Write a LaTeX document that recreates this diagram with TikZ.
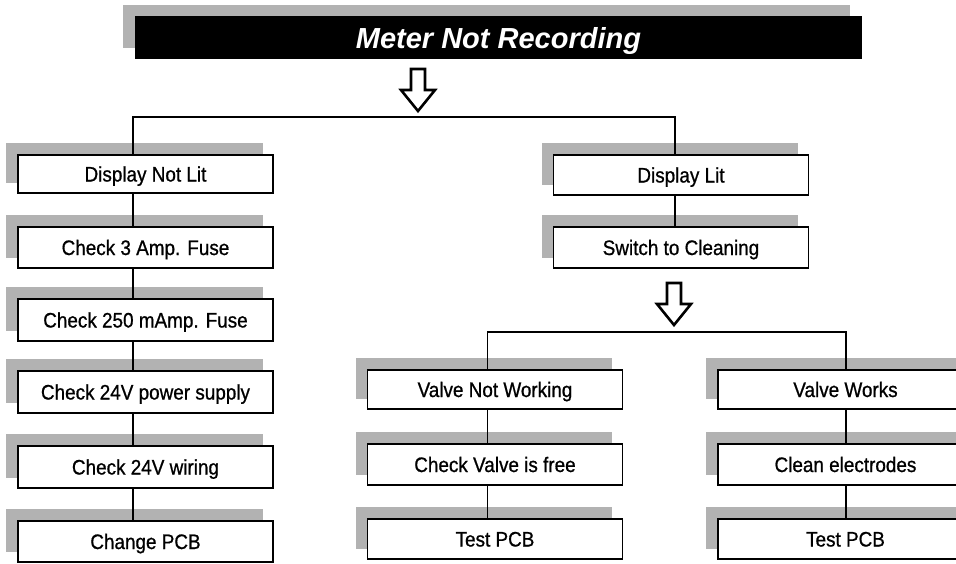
\documentclass[tikz,border=0pt]{standalone}
\usepackage{fontspec}
\setmainfont{Liberation Sans}
\newfontfamily\boxfont{Liberation Sans}[FakeStretch=0.9,FakeBold=0.8]
\usetikzlibrary{backgrounds}
\definecolor{shadowgray}{gray}{0.70}
\tikzset{
  stepbox/.style={draw=black, line width=1.8pt, fill=white, minimum width=255pt,
    minimum height=40pt, inner sep=0pt, text height=15pt, text depth=0pt,
    font=\boxfont\fontsize{21}{24}\selectfont},
  titlebox/.style={fill=black, text=white, minimum width=727pt, minimum height=43pt,
    inner sep=0pt, text height=21pt, text depth=0pt,
    font=\bfseries\itshape\fontsize{29}{32}\selectfont},
  conn/.style={draw=black, line width=1.6pt},
  shade/.style={fill=shadowgray},
  bigarrow/.style={draw=black, fill=white, line width=2.6pt, line join=miter}
}
\newcommand{\boxshadow}[1]{\fill[shade] ([shift={(-11,-11)}]#1.north west) rectangle ([shift={(-11,-11)}]#1.south east);}
\begin{document}
\begin{tikzpicture}[x=1pt,y=-1pt]
\useasboundingbox (0,0) rectangle (956,563);
% title
\node[titlebox] (title) at (498.5,37.5) {Meter Not Recording};
% left column
\node[stepbox, minimum height=38pt] (dnl) at (145.5,174) {Display Not Lit};
\node[stepbox, minimum height=41pt] (f3) at (145.5,247.5) {Check 3 Amp. Fuse};
\node[stepbox, minimum height=42pt] (f250) at (145.5,320) {Check 250 mAmp. Fuse};
\node[stepbox, minimum height=42pt] (ps) at (145.5,392) {Check 24V power supply};
\node[stepbox, minimum height=42pt] (wir) at (145.5,467) {Check 24V wiring};
\node[stepbox, minimum height=41pt] (cpcb) at (145.5,541.5) {Change PCB};
% middle column
\node[stepbox] (dl) at (681,175) {Display Lit};
\node[stepbox, minimum height=41pt] (sw) at (681,247.5) {Switch to Cleaning};
% lower middle column
\node[stepbox, minimum height=39pt] (vnw) at (495,389.5) {Valve Not Working};
\node[stepbox, minimum height=41pt] (cvf) at (495,464.5) {Check Valve is free};
\node[stepbox] (tp1) at (495,539) {Test PCB};
% lower right column
\node[stepbox, minimum height=39pt] (vw) at (845.5,389.5) {Valve Works};
\node[stepbox, minimum height=41pt] (ce) at (845.5,464.5) {Clean electrodes};
\node[stepbox] (tp2) at (845.5,539) {Test PCB};
% guide coordinates
\coordinate (lx) at (133,0);
\coordinate (mx) at (675,0);
\coordinate (lmx) at (487.5,0);
\coordinate (lrx) at (846,0);
\coordinate (bar1) at (0,117);
\coordinate (bar2) at (0,332);
\begin{pgfonlayer}{background}
  \fill[shade] ([shift={(-12,-11)}]title.north west) rectangle ([shift={(-12,-11)}]title.south east);
  \foreach \n in {dnl,f3,f250,ps,wir,cpcb,dl,sw,vnw,cvf,tp1,vw,ce,tp2} {\boxshadow{\n}}
  % connectors
  \draw[conn] (dnl.north -| lx) -- (lx |- bar1) -- (mx |- bar1) -- (dl.north -| mx);
  \draw[conn] (dnl.south -| lx) -- (f3.north -| lx);
  \draw[conn] (f3.south -| lx) -- (f250.north -| lx);
  \draw[conn] (f250.south -| lx) -- (ps.north -| lx);
  \draw[conn] (ps.south -| lx) -- (wir.north -| lx);
  \draw[conn] (wir.south -| lx) -- (cpcb.north -| lx);
  \draw[conn] (dl.south -| mx) -- (sw.north -| mx);
  \draw[conn] (vnw.north -| lmx) -- (lmx |- bar2) -- (lrx |- bar2) -- (vw.north -| lrx);
  \draw[conn] (vnw.south -| lmx) -- (cvf.north -| lmx);
  \draw[conn] (cvf.south -| lmx) -- (tp1.north -| lmx);
  \draw[conn] (vw.south -| lrx) -- (ce.north -| lrx);
  \draw[conn] (ce.south -| lrx) -- (tp2.north -| lrx);
\end{pgfonlayer}
% hollow arrows
\draw[bigarrow] (411,69) -- (425,69) -- (425,90) -- (435,90) -- (418,111) -- (401,90) -- (411,90) -- cycle;
\draw[bigarrow] (667,283) -- (681,283) -- (681,304) -- (691,304) -- (674,325) -- (657,304) -- (667,304) -- cycle;
\end{tikzpicture}
\end{document}
